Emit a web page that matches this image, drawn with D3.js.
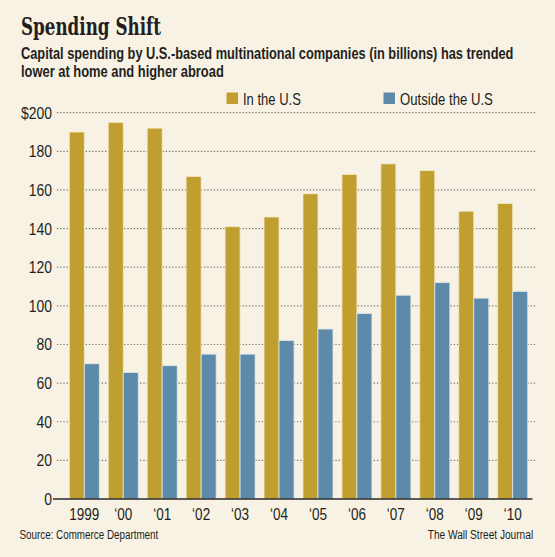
<!DOCTYPE html>
<html>
<head>
<meta charset="utf-8">
<script src="https://cdn.jsdelivr.net/npm/d3@7"></script>
<style>
  body { margin: 0; background: #f8f2e4; }
  svg { display: block; }
  text { font-family: "Liberation Sans", Arial, sans-serif; fill: #231f20; }
  .title { font-family: "DejaVu Serif Condensed", "DejaVu Serif", serif; font-weight: bold; }
</style>
</head>
<body>
<svg width="555" height="557"></svg>
<script>
const width = 555;
const height = 557;

const years = ['1999', '\u201800', '\u201801', '\u201802', '\u201803', '\u201804', '\u201805', '\u201806', '\u201807', '\u201808', '\u201809', '\u201810'];
const inUS = [190, 195, 192, 167, 141, 146, 158, 168, 173.5, 170, 149, 153];
const outsideUS = [70, 65.5, 69, 75, 75, 82, 88, 96, 105.5, 112, 104, 107.5];
const yTicks = [0, 20, 40, 60, 80, 100, 120, 140, 160, 180, 200];

const gold = '#c09e2f';
const blue = '#5d8aa8';
const narrow = 0.82; // squeeze Liberation Sans to look like a narrow face

const svg = d3.select('svg');

// squeeze a text horizontally so it spans w pixels from (x, y)
function fit(sel, x, y, w) {
    sel.each(function() {
        const natural = this.getComputedTextLength();
        d3.select(this).attr('transform', `translate(${x},${y}) scale(${w / natural},1)`);
    });
}

svg.append('rect')
    .attr('width', width)
    .attr('height', height)
    .attr('fill', '#f8f2e4');

// heading
svg.append('text')
    .attr('class', 'title')
    .attr('font-size', 24.5)
    .text('Spending Shift')
    .call(fit, 21, 35, 140);

const sub = ['Capital spending by U.S.-based multinational companies (in billions) has trended',
    'lower at home and higher abroad'];
const subWidth = [493, 203];
svg.selectAll('.sub')
    .data(sub)
    .join('text')
    .attr('class', 'sub')
    .attr('font-size', 16.5)
    .attr('font-weight', 'bold')
    .attr('fill', '#2b2b2b')
    .text(d => d)
    .each(function(d, i) { d3.select(this).call(fit, 21, 58.5 + i * 18, subWidth[i]); });

// scales
const x = d3.scaleBand()
    .domain(years)
    .range([65, 532])
    .paddingInner(0.23)
    .paddingOuter(0.11);

const y = d3.scaleLinear()
    .domain([0, 200])
    .range([499, 112.7]);

// grid
svg.append('g')
    .selectAll('line')
    .data(yTicks.filter(d => d > 0))
    .join('line')
    .attr('x1', 57)
    .attr('x2', 536)
    .attr('y1', d => y(d))
    .attr('y2', d => y(d))
    .attr('stroke', '#6f6a62')
    .attr('stroke-width', 1.2)
    .attr('stroke-dasharray', '1.2,2');

svg.append('g')
    .selectAll('text')
    .data(yTicks)
    .join('text')
    .attr('transform', d => `translate(52,${y(d) + 6}) scale(${narrow},1)`)
    .attr('text-anchor', 'end')
    .attr('font-size', 17)
    .text(d => d === 200 ? '$200' : d);

// bars
const groups = svg.append('g')
    .selectAll('g')
    .data(years)
    .join('g')
    .attr('transform', d => `translate(${x(d)},0)`);

const half = x.bandwidth() / 2;

groups.append('rect')
    .attr('x', 0)
    .attr('width', half)
    .attr('y', (d, i) => y(inUS[i]))
    .attr('height', (d, i) => y(0) - y(inUS[i]))
    .attr('fill', gold)
    .attr('stroke', '#f4e9c4')
    .attr('stroke-width', 0.8);

groups.append('rect')
    .attr('x', half)
    .attr('width', half)
    .attr('y', (d, i) => y(outsideUS[i]))
    .attr('height', (d, i) => y(0) - y(outsideUS[i]))
    .attr('fill', blue)
    .attr('stroke', '#dce6ea')
    .attr('stroke-width', 0.8);

// baseline
svg.append('line')
    .attr('x1', 53)
    .attr('x2', 532.5)
    .attr('y1', y(0))
    .attr('y2', y(0))
    .attr('stroke', '#2a2a2a')
    .attr('stroke-width', 1.5);

svg.append('g')
    .selectAll('text')
    .data(years)
    .join('text')
    .attr('transform', d => `translate(${x(d) + x.bandwidth() / 2},520) scale(${narrow},1)`)
    .attr('text-anchor', 'middle')
    .attr('font-size', 16.5)
    .text(d => d);

// legend
const legend = [
    { label: 'In the U.S', color: gold, x: 226.5, w: 58 },
    { label: 'Outside the U.S', color: blue, x: 383.5, w: 93 }
];
const lg = svg.append('g')
    .selectAll('g')
    .data(legend)
    .join('g')
    .attr('transform', d => `translate(${d.x},92.5)`);
lg.append('rect')
    .attr('width', 11.5)
    .attr('height', 11.5)
    .attr('fill', d => d.color);
lg.append('text')
    .attr('font-size', 16)
    .text(d => d.label)
    .each(function(d) { d3.select(this).call(fit, 16.5, 12, d.w); });

// footer
svg.append('text')
    .attr('font-size', 13.5)
    .attr('fill', '#3d3a36')
    .text('Source: Commerce Department')
    .call(fit, 19.5, 539, 139);

svg.append('text')
    .attr('font-size', 13.5)
    .attr('fill', '#3d3a36')
    .text('The Wall Street Journal')
    .call(fit, 427.7, 539, 105.6);
</script>
</body>
</html>
